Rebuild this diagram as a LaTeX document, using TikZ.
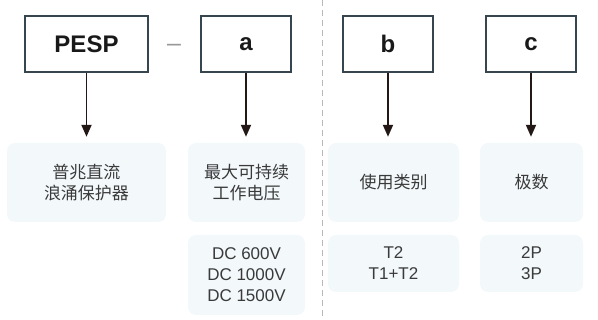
\documentclass[tikz,border=0pt]{standalone}
\usepackage{fontspec}
\setmainfont{Liberation Sans}
\newfontfamily\cjk{Noto Sans CJK SC}
\usetikzlibrary{arrows.meta}
\definecolor{boxline}{HTML}{37454F}
\definecolor{panel}{HTML}{F3F8FB}
\definecolor{ink}{HTML}{3A3A3A}
\definecolor{arrowink}{HTML}{231815}

\tikzset{
  codebox/.style={draw=boxline, line width=2pt, fill=white, minimum height=56pt, inner sep=0pt,
    font=\fontsize{24}{24}\selectfont\bfseries, text=black!90},
  panelbox/.style={fill=panel, rounded corners=8pt, inner sep=0pt, align=center, text=ink,
    font=\fontsize{17}{21}\selectfont},
  pointer/.style={-{Triangle[width=10pt,length=12pt]}, line width=1.9pt, draw=arrowink, shorten >=6pt},
}

\begin{document}
\begin{tikzpicture}[x=1pt, y=-1pt]
	\useasboundingbox (0,0) rectangle (598,320);
	% separator
	\draw[gray!55, line width=1pt, dash pattern=on 6pt off 4pt] (322,0) -- (322,318);
	% code boxes
	\node[codebox, minimum width=123pt] (pesp) at (86.5,44) {PESP};
	\node[codebox, minimum width=90pt] (codea) at (246,44) {a};
	\node[codebox, minimum width=90pt] (codeb) at (388,44) {b};
	\node[codebox, minimum width=90pt] (codec) at (531,44) {c};
	\node[text=gray!80, font=\fontsize{25}{25}\selectfont] (hyph) at (174,47.5) {–};
	% meaning
	\node[panelbox, minimum width=159pt, minimum height=79pt] (name) at (86.5,182.5) {\cjk 普兆直流\\\cjk 浪涌保护器};
	\node[panelbox, minimum width=117pt, minimum height=79pt] (volt) at (246.5,182.5) {\cjk 最大可持续\\\cjk 工作电压};
	\node[panelbox, minimum width=131pt, minimum height=79pt] (usage) at (393.5,182.5) {\cjk 使用类别};
	\node[panelbox, minimum width=103pt, minimum height=79pt] (poles) at (531.5,182.5) {\cjk 极数};
	% values
	\node[panelbox, minimum width=117pt, minimum height=80pt] (voltval) at (246.5,275) {DC 600V\\DC 1000V\\DC 1500V};
	\node[panelbox, minimum width=131pt, minimum height=57pt] (usageval) at (393.5,263.5) {T2\\T1+T2};
	\node[panelbox, minimum width=103pt, minimum height=57pt] (polesval) at (531.5,263.5) {2P\\3P};
	% arrows
	\draw[pointer] (pesp) -- (pesp |- name.north);
	\draw[pointer] (codea) -- (codea |- volt.north);
	\draw[pointer] (codeb) -- (codeb |- usage.north);
	\draw[pointer] (codec) -- (codec |- poles.north);
\end{tikzpicture}
\end{document}
